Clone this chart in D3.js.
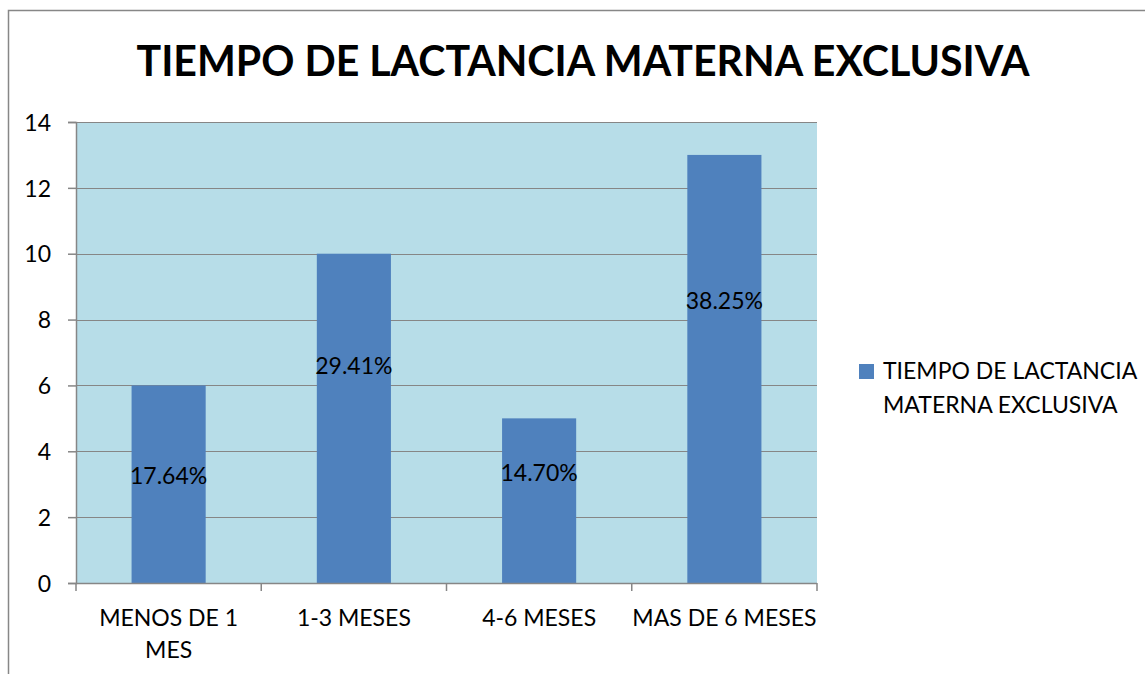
<!DOCTYPE html>
<html>
<head>
<meta charset="utf-8">
<script src="https://cdn.jsdelivr.net/npm/d3@7"></script>
<style>
  html, body { margin: 0; padding: 0; background: #fff; }
  svg { display: block; }
  text { font-family: Lato, "Open Sans", sans-serif; fill: #000; }
</style>
</head>
<body>
<script>
// Chart data
const categories = [["MENOS DE 1", "MES"], ["1-3 MESES"], ["4-6 MESES"], ["MAS DE 6 MESES"]];
const values = [6, 10, 5, 13];
const percentLabels = ["17.64%", "29.41%", "14.70%", "38.25%"];
const yTicks = [0, 2, 4, 6, 8, 10, 12, 14];
const seriesName = ["TIEMPO DE LACTANCIA", "MATERNA EXCLUSIVA"];
const title = "TIEMPO DE LACTANCIA MATERNA EXCLUSIVA";

// Where each percentage label sits, as a fraction of its bar's height
const labelFraction = [0.54, 0.66, 0.67, 0.66];

const W = 1145, H = 674;
const plot = { left: 76, top: 122, right: 817, bottom: 583 };
const FONT = 23;

const svg = d3.select("body").append("svg").attr("width", W).attr("height", H);

// Outer chart frame (extends past the right and bottom edges)
svg.append("rect")
  .attr("x", 8.5).attr("y", 10.5)
  .attr("width", W + 20).attr("height", H + 20)
  .attr("fill", "#fff").attr("stroke", "#878787").attr("stroke-width", 1.5);

// Title
svg.append("text")
  .attr("x", 583).attr("y", 76)
  .attr("text-anchor", "middle")
  .style("font-size", "42px").style("font-weight", "700")
  .attr("textLength", 893).attr("lengthAdjust", "spacingAndGlyphs")
  .text(title);

const x = d3.scaleBand()
  .domain(d3.range(values.length))
  .range([plot.left, plot.right])
  .paddingInner(0.6).paddingOuter(0.3);

const xBand = d3.scaleBand()
  .domain(d3.range(values.length))
  .range([plot.left, plot.right]);

const y = d3.scaleLinear().domain([0, 14]).range([plot.bottom, plot.top]);

// Plot background
svg.append("rect")
  .attr("x", plot.left).attr("y", plot.top)
  .attr("width", plot.right - plot.left).attr("height", plot.bottom - plot.top)
  .attr("fill", "#b7dde8");

// Gridlines
svg.append("g").selectAll("line")
  .data(yTicks.filter(d => d > 0))
  .join("line")
  .attr("x1", plot.left).attr("x2", plot.right)
  .attr("y1", d => Math.round(y(d)) + 0.5).attr("y2", d => Math.round(y(d)) + 0.5)
  .attr("stroke", "#868686").attr("stroke-width", 1.2);

// Bars
svg.append("g").selectAll("rect")
  .data(values)
  .join("rect")
  .attr("x", (d, i) => x(i))
  .attr("y", d => y(d))
  .attr("width", x.bandwidth())
  .attr("height", d => y(0) - y(d))
  .attr("fill", "#4f81bd");

// Percentage labels
svg.append("g").selectAll("text")
  .data(values)
  .join("text")
  .attr("x", (d, i) => x(i) + x.bandwidth() / 2)
  .attr("y", (d, i) => y(d * labelFraction[i]))
  .attr("dy", "0.35em")
  .attr("text-anchor", "middle")
  .style("font-size", FONT + "px")
  .text((d, i) => percentLabels[i]);

// Y axis
const yAxis = svg.append("g")
  .attr("transform", `translate(${plot.left},0)`)
  .call(d3.axisLeft(y).tickValues(yTicks).tickSize(8).tickPadding(17).tickFormat(d3.format("d")));
yAxis.selectAll("path, line").attr("stroke", "#868686").attr("stroke-width", 1.5);
yAxis.selectAll("text")
  .attr("dy", "0.36em")
  .style("font-size", FONT + "px").style("font-family", "Lato, sans-serif").attr("fill", "#000");

// X axis line and category boundary ticks
const xg = svg.append("g");
xg.append("line")
  .attr("x1", plot.left).attr("x2", plot.right)
  .attr("y1", plot.bottom + 0.5).attr("y2", plot.bottom + 0.5)
  .attr("stroke", "#868686").attr("stroke-width", 1.5);
xg.selectAll("line.tick")
  .data(d3.range(values.length + 1))
  .join("line")
  .attr("class", "tick")
  .attr("x1", i => i < values.length ? xBand(i) : plot.right)
  .attr("x2", i => i < values.length ? xBand(i) : plot.right)
  .attr("y1", plot.bottom).attr("y2", plot.bottom + 8)
  .attr("stroke", "#868686").attr("stroke-width", 1.5);

// Category labels
xg.selectAll("text.cat")
  .data(categories)
  .join("text")
  .attr("class", "cat")
  .attr("x", (d, i) => xBand(i) + xBand.bandwidth() / 2)
  .attr("y", 626)
  .attr("text-anchor", "middle")
  .style("font-size", FONT + "px")
  .selectAll("tspan")
  .data(d => d)
  .join("tspan")
  .attr("x", function () { return d3.select(this.parentNode).attr("x"); })
  .attr("dy", (d, j) => j === 0 ? 0 : 32)
  .text(d => d);

// Legend
const lg = svg.append("g");
lg.append("rect")
  .attr("x", 859).attr("y", 364).attr("width", 15).attr("height", 15)
  .attr("fill", "#4f81bd");
lg.append("text")
  .attr("x", 883).attr("y", 379)
  .style("font-size", FONT + "px")
  .selectAll("tspan")
  .data(seriesName)
  .join("tspan")
  .attr("x", 883)
  .attr("dy", (d, j) => j === 0 ? 0 : 34)
  .text(d => d);
</script>
</body>
</html>
